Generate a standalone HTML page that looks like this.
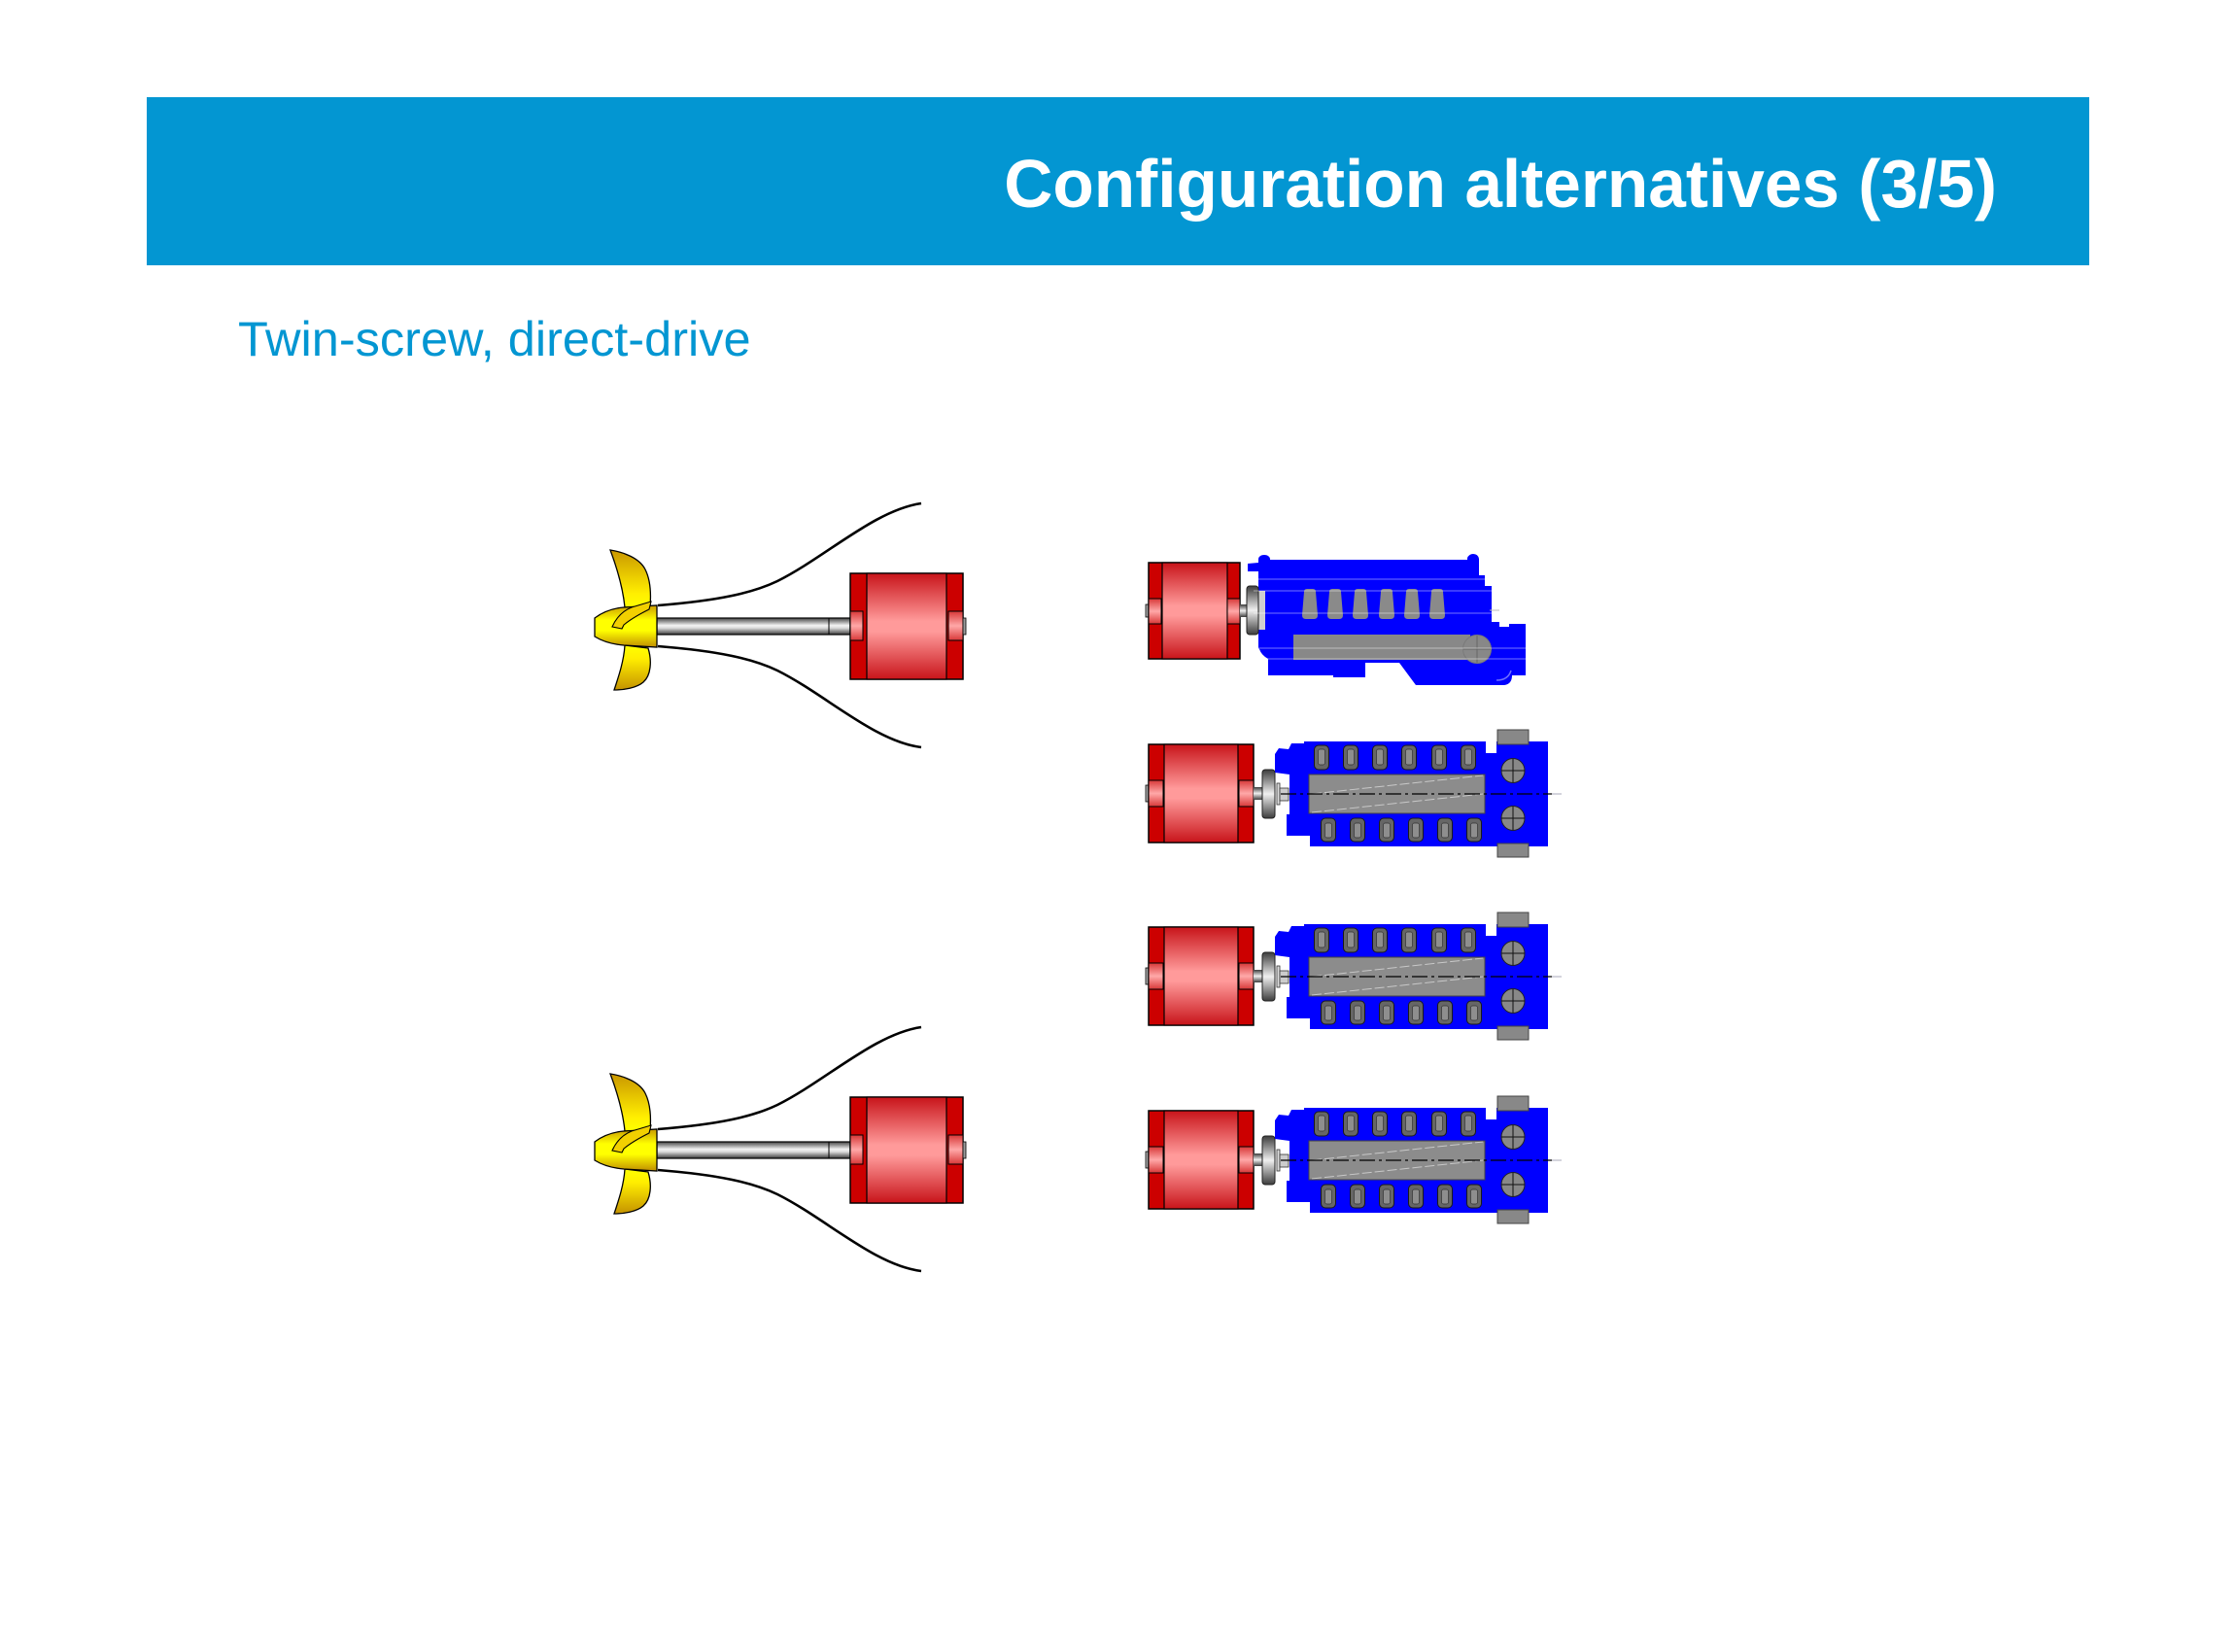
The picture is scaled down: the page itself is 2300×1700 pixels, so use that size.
<!DOCTYPE html>
<html>
<head>
<meta charset="utf-8">
<style>
html,body{margin:0;padding:0;background:#fff;}
body{width:2300px;height:1700px;overflow:hidden;}
svg{display:block;}
</style>
</head>
<body>
<svg width="2300" height="1700" viewBox="0 0 2300 1700" xmlns="http://www.w3.org/2000/svg">
<defs>
  <linearGradient id="hubG" x1="0" y1="0" x2="0" y2="1">
    <stop offset="0" stop-color="#c99a00"/>
    <stop offset="0.35" stop-color="#ffff00"/>
    <stop offset="0.6" stop-color="#ffff00"/>
    <stop offset="1" stop-color="#c08e00"/>
  </linearGradient>
  <linearGradient id="bladeUp" x1="0" y1="0" x2="0" y2="1">
    <stop offset="0" stop-color="#c99600"/>
    <stop offset="0.75" stop-color="#ffee00"/>
    <stop offset="1" stop-color="#ffff00"/>
  </linearGradient>
  <linearGradient id="bladeDn" x1="0" y1="0" x2="0" y2="1">
    <stop offset="0" stop-color="#ffff00"/>
    <stop offset="0.3" stop-color="#ffee00"/>
    <stop offset="1" stop-color="#c49200"/>
  </linearGradient>
  <linearGradient id="shaftG" x1="0" y1="0" x2="0" y2="1">
    <stop offset="0" stop-color="#444"/>
    <stop offset="0.45" stop-color="#f4f4f4"/>
    <stop offset="0.6" stop-color="#dcdcdc"/>
    <stop offset="1" stop-color="#3a3a3a"/>
  </linearGradient>
  <linearGradient id="redG" x1="0" y1="0" x2="0" y2="1">
    <stop offset="0" stop-color="#c8141a"/>
    <stop offset="0.45" stop-color="#ff9a9a"/>
    <stop offset="0.55" stop-color="#ff9a9a"/>
    <stop offset="1" stop-color="#c8141a"/>
  </linearGradient>
  <linearGradient id="brgG" x1="0" y1="0" x2="0" y2="1">
    <stop offset="0" stop-color="#d83838"/>
    <stop offset="0.5" stop-color="#ffa8a8"/>
    <stop offset="1" stop-color="#d83838"/>
  </linearGradient>
  <linearGradient id="flG" x1="0" y1="0" x2="0" y2="1">
    <stop offset="0" stop-color="#3c3c3c"/>
    <stop offset="0.5" stop-color="#f0f0f0"/>
    <stop offset="1" stop-color="#3c3c3c"/>
  </linearGradient>

  <!-- Propeller assembly -->
  <g id="prop">
    <path d="M677,623 C740,618 775,610 800,598 C850,573 900,525 948,518" fill="none" stroke="#000" stroke-width="2.6"/>
    <path d="M677,665 C740,670 775,678 800,690 C850,715 900,763 948,769" fill="none" stroke="#000" stroke-width="2.6"/>
    <rect x="676" y="636" width="199" height="17" fill="url(#shaftG)" stroke="#000" stroke-width="1.2"/>
    <line x1="853" y1="636" x2="853" y2="653" stroke="#000" stroke-width="1"/>
    <path d="M628,566 C641,568 658,574 664,586 C670,598 670,612 669,624 L643,625 C641,605 634,582 628,566 Z" fill="url(#bladeUp)" stroke="#000" stroke-width="1.3"/>
    <path d="M643,664 L667,667 C671,680 670,695 662,702 C655,708 642,710 632,710 C637,695 642,680 643,664 Z" fill="url(#bladeDn)" stroke="#000" stroke-width="1.3"/>
    <path d="M612,636 C620,630 630,626 642,625 L676,623 L676,666 L642,664 C630,663 620,660 612,655 Z" fill="url(#hubG)" stroke="#000" stroke-width="1.3"/>
    <path d="M630,645 C634,636 640,629 650,625 L670,619 L668,627 C658,632 648,638 642,643 L640,647 Z" fill="#f2d000" stroke="#000" stroke-width="1.1"/>
    <rect x="875" y="590" width="116" height="109" fill="#cc0000" stroke="#000" stroke-width="1.5"/>
    <rect x="892" y="590" width="82" height="109" fill="url(#redG)" stroke="#000" stroke-width="1.2"/>
    <rect x="875" y="629" width="13" height="30" fill="url(#brgG)" stroke="#000" stroke-width="1"/>
    <rect x="976" y="629" width="15" height="30" fill="url(#brgG)" stroke="#000" stroke-width="1"/>
    <rect x="991" y="636" width="3" height="17" fill="#999" stroke="#000" stroke-width="0.8"/>
  </g>

  <!-- Top-view engine with generator -->
  <g id="topEng">
    <rect x="1179" y="808" width="4" height="17" fill="#aaa" stroke="#000" stroke-width="0.8"/>
    <rect x="1182" y="766" width="108" height="101" fill="#cc0000" stroke="#000" stroke-width="1.5"/>
    <rect x="1198" y="766" width="76" height="101" fill="url(#redG)" stroke="#000" stroke-width="1.2"/>
    <rect x="1182" y="803" width="15" height="27" fill="url(#brgG)" stroke="#000" stroke-width="1"/>
    <rect x="1275" y="803" width="15" height="27" fill="url(#brgG)" stroke="#000" stroke-width="1"/>
    <rect x="1290" y="810" width="10" height="13" fill="url(#flG)"/>
    <rect x="1299" y="792" width="13" height="50" rx="3" fill="url(#flG)" stroke="#222" stroke-width="1"/>
    <path d="M1312,776 L1316,770 L1326,771 L1329,765 L1342,765 L1342,763 L1529,763 L1529,775 L1540,775 L1540,763 L1593,763 L1593,871 L1348,871 L1348,860 L1324,860 L1324,838 L1327,838 L1327,797 L1312,795 Z" fill="#0000ff"/>
    <rect x="1314" y="806" width="3" height="22" fill="#ddd" stroke="#333" stroke-width="0.8"/>
    <rect x="1317" y="811" width="9" height="13" fill="#ccc" stroke="#333" stroke-width="0.8"/>
    <rect x="1541" y="751" width="32" height="15" fill="#888" stroke="#444" stroke-width="1"/>
    <rect x="1541" y="868" width="32" height="14" fill="#888" stroke="#444" stroke-width="1"/>
    <rect x="1347" y="797" width="181" height="40" fill="#8c8c8c" stroke="#444" stroke-width="1"/>
    <line x1="1350" y1="817" x2="1526" y2="798" stroke="#c8c8c8" stroke-width="1" stroke-dasharray="10,3"/>
    <line x1="1350" y1="836" x2="1526" y2="817" stroke="#c8c8c8" stroke-width="1" stroke-dasharray="10,3"/>
    <ellipse cx="1557" cy="793" rx="12" ry="12.5" fill="#888" stroke="#222" stroke-width="1"/>
    <line x1="1545" y1="793" x2="1569" y2="793" stroke="#111" stroke-width="1"/>
    <line x1="1557" y1="781" x2="1557" y2="805" stroke="#111" stroke-width="1"/>
    <ellipse cx="1557" cy="842" rx="12" ry="12.5" fill="#888" stroke="#222" stroke-width="1"/>
    <line x1="1545" y1="842" x2="1569" y2="842" stroke="#111" stroke-width="1"/>
    <line x1="1557" y1="830" x2="1557" y2="854" stroke="#111" stroke-width="1"/>
    <line x1="1318" y1="817" x2="1597" y2="817" stroke="#000" stroke-width="1.2" stroke-dasharray="16,4,3,4"/>
    <line x1="1597" y1="817" x2="1607" y2="817" stroke="#aab" stroke-width="1"/>
    <g fill="#666" stroke="#1a1a1a" stroke-width="1">
      <rect x="1352.5" y="767" width="15" height="25" rx="4.5"/>
      <rect x="1382.5" y="767" width="15" height="25" rx="4.5"/>
      <rect x="1412.5" y="767" width="15" height="25" rx="4.5"/>
      <rect x="1442.5" y="767" width="15" height="25" rx="4.5"/>
      <rect x="1473.5" y="767" width="15" height="25" rx="4.5"/>
      <rect x="1503.5" y="767" width="15" height="25" rx="4.5"/>
      <rect x="1359.5" y="842" width="15" height="24" rx="4.5"/>
      <rect x="1389.5" y="842" width="15" height="24" rx="4.5"/>
      <rect x="1419.5" y="842" width="15" height="24" rx="4.5"/>
      <rect x="1449.5" y="842" width="15" height="24" rx="4.5"/>
      <rect x="1479.5" y="842" width="15" height="24" rx="4.5"/>
      <rect x="1509.5" y="842" width="15" height="24" rx="4.5"/>
    </g>
    <g fill="#8e8e8e" stroke="#333" stroke-width="0.7">
      <rect x="1356.5" y="771" width="7" height="16" rx="2"/>
      <rect x="1386.5" y="771" width="7" height="16" rx="2"/>
      <rect x="1416.5" y="771" width="7" height="16" rx="2"/>
      <rect x="1446.5" y="771" width="7" height="16" rx="2"/>
      <rect x="1477.5" y="771" width="7" height="16" rx="2"/>
      <rect x="1507.5" y="771" width="7" height="16" rx="2"/>
      <rect x="1363.5" y="847" width="7" height="15" rx="2"/>
      <rect x="1393.5" y="847" width="7" height="15" rx="2"/>
      <rect x="1423.5" y="847" width="7" height="15" rx="2"/>
      <rect x="1453.5" y="847" width="7" height="15" rx="2"/>
      <rect x="1483.5" y="847" width="7" height="15" rx="2"/>
      <rect x="1513.5" y="847" width="7" height="15" rx="2"/>
    </g>
  </g>
</defs>

<!-- Banner -->
<rect x="151" y="100" width="1999" height="173" fill="#0396d2"/>
<text x="2055" y="213" text-anchor="end" font-family="Liberation Sans, Arial, sans-serif" font-weight="bold" font-size="69.4" fill="#ffffff">Configuration alternatives (3/5)</text>

<!-- Subtitle -->
<text x="245" y="366" font-family="Liberation Sans, Arial, sans-serif" font-size="50.5" fill="#0396d2">Twin-screw, direct-drive</text>

<!-- Propellers -->
<use href="#prop"/>
<use href="#prop" transform="translate(0,539)"/>

<!-- Side-view engine (row 1) -->
<g>
  <rect x="1179" y="622" width="4" height="13" fill="#aaa" stroke="#000" stroke-width="0.8"/>
  <rect x="1182" y="579" width="94" height="99" fill="#cc0000" stroke="#000" stroke-width="1.5"/>
  <rect x="1196" y="579" width="67" height="99" fill="url(#redG)" stroke="#000" stroke-width="1.2"/>
  <rect x="1182" y="616" width="13" height="26" fill="url(#brgG)" stroke="#000" stroke-width="1"/>
  <rect x="1263" y="616" width="13" height="26" fill="url(#brgG)" stroke="#000" stroke-width="1"/>
  <rect x="1276" y="622" width="8" height="13" fill="url(#flG)"/>
  <path d="M1284,580 L1295,579 L1295,575 Q1296,571 1301,571 Q1306,571 1307,575 L1307,576 L1510,576 L1510,574 Q1512,570 1516,570 Q1521,570 1522,575 L1522,592 L1528,592 L1528,603 L1535,603 L1535,640 L1543,640 L1543,645 L1553,645 L1553,642 L1570,642 L1570,695 L1556,695 Q1556,704 1548,705 L1457,705 L1440,682 L1405,682 L1405,697 L1372,697 L1372,695 L1305,695 L1305,678 Q1298,674 1296,668 L1295,667 L1295,588 L1284,588 Z" fill="#0000ff"/>
  <path d="M1540,700 Q1552,700 1555,690" fill="none" stroke="#6f6fff" stroke-width="1.5"/>
  <rect x="1295" y="608" width="7" height="40" fill="#cfcfcf"/>
  <rect x="1283" y="603" width="12" height="50" rx="3" fill="url(#flG)" stroke="#222" stroke-width="1"/>
  <g fill="#8a8a8a">
    <path d="M1342,609 Q1342,606 1345,606 L1351,606 Q1354,606 1354,609 L1356,633 Q1356,637 1352,637 L1344,637 Q1340,637 1340,633 Z"/>
    <path d="M1368,609 Q1368,606 1371,606 L1377,606 Q1380,606 1380,609 L1382,633 Q1382,637 1378,637 L1370,637 Q1366,637 1366,633 Z"/>
    <path d="M1394,609 Q1394,606 1397,606 L1403,606 Q1406,606 1406,609 L1408,633 Q1408,637 1404,637 L1396,637 Q1392,637 1392,633 Z"/>
    <path d="M1421,609 Q1421,606 1424,606 L1430,606 Q1433,606 1433,609 L1435,633 Q1435,637 1431,637 L1423,637 Q1419,637 1419,633 Z"/>
    <path d="M1447,609 Q1447,606 1450,606 L1456,606 Q1459,606 1459,609 L1461,633 Q1461,637 1457,637 L1449,637 Q1445,637 1445,633 Z"/>
    <path d="M1473,609 Q1473,606 1476,606 L1482,606 Q1485,606 1485,609 L1487,633 Q1487,637 1483,637 L1475,637 Q1471,637 1471,633 Z"/>
  </g>
  <rect x="1331" y="653" width="182" height="26" fill="#888"/>
  <circle cx="1520" cy="668" r="14.5" fill="#888" stroke="#7a7a7a" stroke-width="1"/>
  <line x1="1506" y1="668" x2="1534" y2="668" stroke="#666" stroke-width="1"/>
  <line x1="1520" y1="654" x2="1520" y2="682" stroke="#666" stroke-width="1"/>
  <g stroke="#ffffff" stroke-opacity="0.45" stroke-width="1">
    <line x1="1290" y1="596" x2="1570" y2="596"/>
    <line x1="1290" y1="608" x2="1570" y2="608"/>
    <line x1="1290" y1="631" x2="1545" y2="631"/>
    <line x1="1290" y1="667" x2="1570" y2="667"/>
    <line x1="1290" y1="678" x2="1570" y2="678"/>
  </g>
  <line x1="1533" y1="628" x2="1543" y2="628" stroke="#bbb" stroke-width="1"/>
</g>

<!-- Top-view engines -->
<use href="#topEng"/>
<use href="#topEng" transform="translate(0,188)"/>
<use href="#topEng" transform="translate(0,377)"/>
</svg>
</body>
</html>
